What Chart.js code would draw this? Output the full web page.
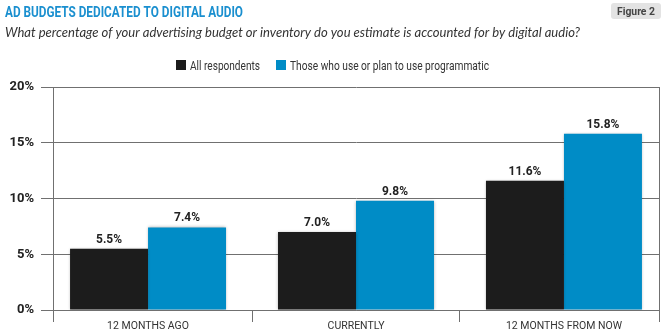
<!DOCTYPE html>
<html>
<head>
<meta charset="utf-8">
<script src="https://cdn.jsdelivr.net/npm/chart.js@4"></script>
<style>
  html, body { margin: 0; padding: 0; background: #fff; }
  #wrap { width: 667px; height: 336px; position: relative; }
</style>
</head>
<body>
<div id="wrap"><canvas id="chart" width="667" height="336"></canvas></div>
<script>
// Datos
const categories = ['12 MONTHS AGO', 'CURRENTLY', '12 MONTHS FROM NOW'];
const allRespondents = [5.5, 7.0, 11.6];
const programmatic = [7.4, 9.8, 15.8];
const seriesNames = ['All respondents', 'Those who use or plan to use programmatic'];
const yTicks = [0, 5, 10, 15, 20];

const titleText = 'AD BUDGETS DEDICATED TO DIGITAL AUDIO';
const subtitleText = 'What percentage of your advertising budget or inventory do you estimate is accounted for by digital audio?';
const figureText = 'Figure 2';

const BLACK = '#1c1c1c';
const BLUE = '#008cc6';
const GRID = '#707070';
const FONT = "Roboto, 'Liberation Sans', sans-serif";

// Escala de categorias: la primera y ultima categoria quedan recortadas por el borde
class PaddedCategoryScale extends Chart.CategoryScale {
    configure() {
        super.configure();
        const inset = 0.457;
        this._startValue = this.min - inset;
        this._valueRange = (this.max - this.min) + 2 * inset;
    }
}
PaddedCategoryScale.id = 'paddedCategory';
PaddedCategoryScale.defaults = Chart.CategoryScale.defaults;
Chart.register(PaddedCategoryScale);

// Texto comprimido horizontalmente (la fuente original es condensada)
function drawText(ctx, text, x, y, width, align) {
    const w = ctx.measureText(text).width;
    const sx = width ? width / w : 1;
    ctx.save();
    ctx.translate(x, y);
    ctx.scale(sx, 1);
    ctx.textAlign = align || 'left';
    ctx.fillText(text, 0, 0);
    ctx.restore();
}

// Cabecera y leyenda
const headerPlugin = {
    id: 'header',
    beforeDraw(chart) {
        const ctx = chart.ctx;
        ctx.save();
        ctx.textBaseline = 'alphabetic';
        ctx.fillStyle = '#1a8fcf';
        ctx.font = "bold 15px " + FONT;
        drawText(ctx, titleText, 5, 17, 238);

        ctx.fillStyle = '#333';
        ctx.font = "italic 13px Lato, sans-serif";
        drawText(ctx, subtitleText, 5, 37, 575);

        // caja gris
        ctx.fillStyle = '#e3e3e3';
        ctx.beginPath();
        ctx.roundRect(611, 3, 50, 16, 3);
        ctx.fill();
        ctx.fillStyle = '#444';
        ctx.font = "bold 11px " + FONT;
        drawText(ctx, figureText, 636, 15, 38, 'center');

        // leyenda
        const colors = [BLACK, BLUE];
        const boxX = [176, 276];
        const textW = [70, 199];
        ctx.font = "13px " + FONT;
        seriesNames.forEach((name, i) => {
            ctx.fillStyle = colors[i];
            ctx.fillRect(boxX[i], 60, 10, 10);
            ctx.fillStyle = '#333';
            drawText(ctx, name, boxX[i] + 14, 70, textW[i]);
        });
        ctx.restore();
    }
};

// Sombra suave de las barras
const shadowPlugin = {
    id: 'barShadow',
    beforeDatasetsDraw(chart) {
        const ctx = chart.ctx;
        ctx.save();
        ctx.shadowColor = 'rgba(0,0,0,0.3)';
        ctx.shadowBlur = 3;
    },
    afterDatasetsDraw(chart) {
        chart.ctx.restore();
    }
};

// Bordes laterales y etiquetas de valor
const decorPlugin = {
    id: 'decor',
    afterDatasetsDraw(chart) {
        const ctx = chart.ctx;
        const area = chart.chartArea;
        const align = v => Math.round(v - 0.5) + 0.5;
        ctx.save();
        ctx.strokeStyle = GRID;
        ctx.lineWidth = 1;
        ctx.beginPath();
        ctx.moveTo(align(area.left), area.bottom);
        ctx.lineTo(align(area.left), area.bottom + 12);
        ctx.moveTo(align(area.right), area.top);
        ctx.lineTo(align(area.right), area.bottom + 12);
        ctx.stroke();

        ctx.fillStyle = '#222';
        ctx.font = "bold 13px " + FONT;
        ctx.textBaseline = 'alphabetic';
        chart.data.datasets.forEach((ds, i) => {
            const meta = chart.getDatasetMeta(i);
            meta.data.forEach((bar, j) => {
                const txt = ds.data[j].toFixed(1) + '%';
                const w = ctx.measureText(txt).width * 0.92;
                drawText(ctx, txt, bar.x, bar.y - 6, w, 'center');
            });
        });
        ctx.restore();
    }
};

new Chart(document.getElementById('chart'), {
    type: 'bar',
    data: {
        labels: categories,
        datasets: [
            {
                label: seriesNames[0],
                data: allRespondents,
                backgroundColor: BLACK,
                borderWidth: 0,
                categoryPercentage: 0.75,
                barPercentage: 1.0
            },
            {
                label: seriesNames[1],
                data: programmatic,
                backgroundColor: BLUE,
                borderWidth: 0,
                categoryPercentage: 0.75,
                barPercentage: 1.0
            }
        ]
    },
    options: {
        responsive: false,
        animation: false,
        devicePixelRatio: 1,
        layout: { padding: { top: 87, right: 8, left: 0, bottom: 0 } },
        plugins: {
            legend: { display: false },
            tooltip: { enabled: false }
        },
        scales: {
            x: {
                type: 'paddedCategory',
                afterFit(scale) { scale.height = 26; },
                grid: {
                    offset: true,
                    drawOnChartArea: false,
                    tickLength: 12,
                    color: GRID
                },
                border: { color: GRID },
                ticks: {
                    color: '#333',
                    padding: -2,
                    maxRotation: 0,
                    font: { family: FONT, size: 10.5 }
                }
            },
            y: {
                min: 0,
                max: 20,
                afterFit(scale) { scale.width = 53; },
                afterBuildTicks(scale) { scale.ticks = yTicks.map(v => ({ value: v })); },
                grid: {
                    color: GRID,
                    tickLength: 12
                },
                border: { color: GRID },
                ticks: {
                    color: '#222',
                    padding: 7,
                    font: { family: FONT, size: 13, weight: 'bold' },
                    callback: v => v + '%'
                }
            }
        }
    },
    plugins: [headerPlugin, shadowPlugin, decorPlugin]
});
</script>
</body>
</html>
